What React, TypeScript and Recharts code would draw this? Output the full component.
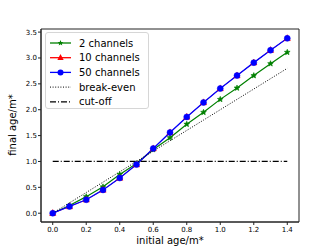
import { LineChart, Line, XAxis, YAxis, Legend, ReferenceArea, Label } from 'recharts';

const initialAge = [0.0, 0.1, 0.2, 0.3, 0.4, 0.5, 0.6, 0.7, 0.8, 0.9, 1.0, 1.1, 1.2, 1.3, 1.4];
const twoChannels = [0, 0.15, 0.32, 0.51, 0.75, 0.96, 1.23, 1.46, 1.72, 1.95, 2.2, 2.42, 2.66, 2.89, 3.11];
const tenChannels = [0, 0.13, 0.26, 0.45, 0.68, 0.94, 1.25, 1.56, 1.86, 2.14, 2.41, 2.66, 2.91, 3.15, 3.38];
const fiftyChannels = [0, 0.13, 0.26, 0.45, 0.68, 0.94, 1.25, 1.56, 1.86, 2.14, 2.41, 2.66, 2.91, 3.15, 3.38];
const breakEven = [0, 0.2, 0.4, 0.6, 0.8, 1.0, 1.2, 1.4, 1.6, 1.8, 2.0, 2.2, 2.4, 2.6, 2.8];
const cutOff = [1, 1, 1, 1, 1, 1, 1, 1, 1, 1, 1, 1, 1, 1, 1];

const xTicks = [0, 0.2, 0.4, 0.6, 0.8, 1.0, 1.2, 1.4];
const yTicks = [0, 0.5, 1.0, 1.5, 2.0, 2.5, 3.0, 3.5];

const X_DOMAIN: [number, number] = [-0.07, 1.47];
const Y_DOMAIN: [number, number] = [-0.17, 3.56];

const FONT = '"DejaVu Sans", sans-serif';
const GREEN = '#008000';
const RED = '#ff0000';
const BLUE = '#0000ff';

const data = initialAge.map((x, i) => ({
  x,
  two: twoChannels[i],
  ten: tenChannels[i],
  fifty: fiftyChannels[i],
  even: breakEven[i],
  cut: cutOff[i],
}));

function starPoints(cx: number, cy: number, r: number) {
  const pts: string[] = [];
  for (let i = 0; i < 10; i++) {
    const rad = i % 2 === 0 ? r : r * 0.45;
    const a = -Math.PI / 2 + (i * Math.PI) / 5;
    pts.push(`${cx + rad * Math.cos(a)},${cy + rad * Math.sin(a)}`);
  }
  return pts.join(' ');
}

function triPoints(cx: number, cy: number, r: number) {
  return `${cx},${cy - r} ${cx + r * 0.87},${cy + r * 0.5 + 0.5} ${cx - r * 0.87},${cy + r * 0.5 + 0.5}`;
}

const StarDot = (props: any) => {
  const { cx, cy, index } = props;
  if (cx == null || cy == null) return null;
  return <polygon key={`s${index}`} points={starPoints(cx, cy, 3)} fill={GREEN} stroke={GREEN} strokeWidth={0.6} />;
};

const TriDot = (props: any) => {
  const { cx, cy, index } = props;
  if (cx == null || cy == null) return null;
  return <polygon key={`t${index}`} points={triPoints(cx, cy, 3.6)} fill={RED} stroke={RED} strokeWidth={0.5} />;
};

const CircleDot = (props: any) => {
  const { cx, cy, index } = props;
  if (cx == null || cy == null) return null;
  return <circle key={`c${index}`} cx={cx} cy={cy} r={3} fill={BLUE} stroke={BLUE} strokeWidth={0.5} />;
};

const legendItems = [
  { name: '2 channels', color: GREEN, kind: 'star' },
  { name: '10 channels', color: RED, kind: 'tri' },
  { name: '50 channels', color: BLUE, kind: 'circle' },
  { name: 'break-even', color: '#000', kind: 'dotted' },
  { name: 'cut-off', color: '#000', kind: 'dashdot' },
];

function LegendBox() {
  return (
    <div
      style={{
        width: 104,
        height: 77,
        boxSizing: 'border-box',
        border: '1px solid #d6d6d6',
        borderRadius: 3,
        background: 'rgba(255,255,255,0.8)',
        fontFamily: FONT,
        fontSize: 10,
        color: '#000',
      }}
    >
      <svg width={104} height={77} style={{ display: 'block', marginTop: -1, marginLeft: -1 }}>
        {legendItems.map((item, i) => {
          const y = 11 + i * 14.7;
          return (
            <g key={item.name}>
              <line
                x1={5}
                x2={26}
                y1={y}
                y2={y}
                stroke={item.color}
                strokeWidth={item.kind === 'dotted' ? 1 : 1.3}
                strokeDasharray={item.kind === 'dotted' ? '1 1.6' : item.kind === 'dashdot' ? '6 2 1 2' : undefined}
              />
              {item.kind === 'star' && <polygon points={starPoints(15.5, y, 3)} fill={GREEN} />}
              {item.kind === 'tri' && <polygon points={triPoints(15.5, y, 3.6)} fill={RED} />}
              {item.kind === 'circle' && <circle cx={15.5} cy={y} r={3} fill={BLUE} />}
              <text x={34} y={y} dominantBaseline="central" fontSize={10} fontFamily={FONT}>
                {item.name}
              </text>
            </g>
          );
        })}
      </svg>
    </div>
  );
}

const XLabel = () => (
  <text x={170} y={244} textAnchor="middle" fontSize={10} fontFamily={FONT} fill="#000">
    initial age/m*
  </text>
);

const YLabel = () => (
  <text
    x={12}
    y={125}
    transform="rotate(-90 12 125)"
    textAnchor="middle"
    dominantBaseline="central"
    fontSize={10}
    fontFamily={FONT}
    fill="#000"
  >
    final age/m*
  </text>
);

export default function App() {
  const tickStyle = { fontSize: 7, fontFamily: FONT, fill: '#000' };
  return (
    <div style={{ position: 'fixed', left: 0, top: 0, width: 332, height: 249, background: '#fff' }}>
      <LineChart width={332} height={249} data={data} margin={{ top: 29, right: 33, bottom: 0, left: 0 }}>
        <XAxis
          dataKey="x"
          type="number"
          domain={X_DOMAIN}
          ticks={xTicks}
          allowDataOverflow
          tickFormatter={(v: number) => v.toFixed(1)}
          tick={tickStyle}
          tickSize={3}
          tickMargin={2}
          height={27}
          stroke="#222"
        >
          <Label content={<XLabel />} />
        </XAxis>
        <YAxis
          type="number"
          domain={Y_DOMAIN}
          ticks={yTicks}
          allowDataOverflow
          tickFormatter={(v: number) => v.toFixed(1)}
          tick={tickStyle}
          tickSize={3}
          tickMargin={1}
          width={41}
          stroke="#222"
        >
          <Label content={<YLabel />} />
        </YAxis>
        <ReferenceArea
          x1={X_DOMAIN[0]}
          x2={X_DOMAIN[1]}
          y1={Y_DOMAIN[0]}
          y2={Y_DOMAIN[1]}
          fill="none"
          stroke="#222"
          strokeWidth={1}
          ifOverflow="visible"
        />
        <Line dataKey="two" stroke={GREEN} strokeWidth={1.2} dot={StarDot} activeDot={false} isAnimationActive={false} />
        <Line dataKey="ten" stroke={RED} strokeWidth={0.7} dot={TriDot} activeDot={false} isAnimationActive={false} />
        <Line dataKey="fifty" stroke={BLUE} strokeWidth={1.3} dot={CircleDot} activeDot={false} isAnimationActive={false} />
        <Line dataKey="even" stroke="#000" strokeWidth={1} strokeDasharray="1 1.6" dot={false} activeDot={false} isAnimationActive={false} />
        <Line dataKey="cut" stroke="#000" strokeWidth={1.2} strokeDasharray="6 2 1 2" dot={false} activeDot={false} isAnimationActive={false} />
        <Legend
          layout="vertical"
          align="center"
          verticalAlign="middle"
          content={<LegendBox />}
          wrapperStyle={{ left: 45, top: 32, width: 104, height: 77 }}
        />
      </LineChart>
    </div>
  );
}
